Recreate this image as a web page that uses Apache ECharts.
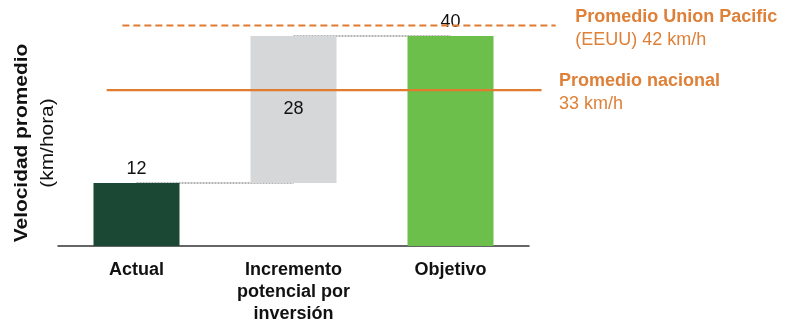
<!DOCTYPE html>
<html>
<head>
<meta charset="utf-8">
<script src="https://cdn.jsdelivr.net/npm/echarts@6/dist/echarts.min.js"></script>
<style>html,body{margin:0;padding:0;background:#fff;}#c{width:786px;height:322px;}</style>
</head>
<body>
<div id="c"></div>
<script>
// ---- data ----
const categories = ['Actual', 'Incremento\npotencial por\ninversión', 'Objetivo'];
const baseValues = [0, 12, 0];          // invisible offset for the waterfall step
const barValues = [12, 28, 40];         // visible bar values
const barColors = ['#1B4735', '#D6D7D9', '#6CBF4A'];
const yTitle = 'Velocidad promedio';
const ySubtitle = '(km/hora)';
// reference lines and their extents in category units
const unionPacificValue = 42;
const unionPacificExtent = [-0.09, 2.67];
const unionPacificLabel = ['Promedio Union Pacific', '(EEUU) 42 km/h'];
const nationalValue = 29.7;
const nationalExtent = [-0.19, 2.58];
const nationalLabel = ['Promedio nacional', '33 km/h'];

const FONT = '"Liberation Sans", Arial, sans-serif';
const ORANGE = '#E07B30';
const ORANGE_TXT = '#DF8038';
const BAND = 157, LEFT = 58, TOP = 15, HEIGHT = 231, YMAX = 44;

const stepTop = baseValues[1] + barValues[1];
const connector1 = [barValues[0], barValues[0], '-'];
const connector2 = ['-', stepTop, stepTop];

const chart = echarts.init(document.getElementById('c'), null, {renderer: 'canvas'});

function refLabel(lines, dist, padTop) {
  return {
    show: true, position: 'right', distance: dist, padding: [padTop, 0, 0, 0],
    formatter: '{b|' + lines[0] + '}\n{r|' + lines[1] + '}',
    rich: {
      b: {fontFamily: FONT, fontSize: 18, fontWeight: 'bold', color: ORANGE_TXT, lineHeight: 23},
      r: {fontFamily: FONT, fontSize: 18, color: ORANGE_TXT, lineHeight: 23}
    }
  };
}

chart.setOption({
  animation: false,
  grid: [
    {left: LEFT, top: TOP, width: BAND * 3, height: HEIGHT, outerBoundsMode: 'none', containLabel: false},
    {left: LEFT, top: TOP, width: BAND * 3.2, height: HEIGHT, outerBoundsMode: 'none', containLabel: false}
  ],
  xAxis: [
    {
      type: 'category', gridIndex: 0, data: categories,
      axisLine: {lineStyle: {color: '#333', width: 1.5}},
      axisTick: {show: false},
      axisLabel: {fontFamily: FONT, fontSize: 18, fontWeight: 'bold', color: '#111', lineHeight: 22, margin: 13, interval: 0}
    },
    {type: 'value', gridIndex: 1, min: -0.5, max: 2.7, show: false}
  ],
  yAxis: [
    {type: 'value', gridIndex: 0, min: 0, max: YMAX, show: false},
    {type: 'value', gridIndex: 1, min: 0, max: YMAX, show: false}
  ],
  graphic: [
    {type: 'text', x: 22, y: 143, rotation: Math.PI / 2, scaleX: 1.16,
     style: {text: yTitle, font: 'bold 18px ' + FONT, fill: '#111', align: 'center', verticalAlign: 'middle'}},
    {type: 'text', x: 48, y: 143, rotation: Math.PI / 2, scaleX: 1.16,
     style: {text: ySubtitle, font: '18px ' + FONT, fill: '#111', align: 'center', verticalAlign: 'middle'}}
  ],
  series: [
    {
      type: 'line', xAxisIndex: 0, yAxisIndex: 0, data: connector1, z: 1,
      symbol: 'none', lineStyle: {color: '#666', width: 1, type: [2, 1]}, silent: true
    },
    {
      type: 'line', xAxisIndex: 0, yAxisIndex: 0, data: connector2, z: 1,
      symbol: 'none', lineStyle: {color: '#666', width: 1, type: [2, 1]}, silent: true
    },
    {
      type: 'bar', xAxisIndex: 0, yAxisIndex: 0, stack: 'w', data: baseValues, z: 3,
      barWidth: 86, itemStyle: {color: 'transparent'}, silent: true
    },
    {
      type: 'bar', xAxisIndex: 0, yAxisIndex: 0, stack: 'w', z: 3, barWidth: 86,
      data: barValues.map((v, i) => ({
        value: v,
        itemStyle: {color: barColors[i]},
        label: {show: true, position: i === 1 ? 'inside' : 'top', distance: 5,
                fontFamily: FONT, fontSize: 18, color: '#111'}
      }))
    },
    {
      type: 'line', xAxisIndex: 1, yAxisIndex: 1, z: 4, symbol: 'circle', symbolSize: 1,
      showSymbol: true, showAllSymbol: true, itemStyle: {color: 'transparent', borderWidth: 0}, silent: true,
      lineStyle: {color: ORANGE, width: 2, type: [7, 4]},
      labelLayout: {hideOverlap: false},
      data: [
        {value: [unionPacificExtent[0], unionPacificValue], label: {show: false}},
        {value: [unionPacificExtent[1], unionPacificValue], label: refLabel(unionPacificLabel, 19, 6)}
      ]
    },
    {
      type: 'line', xAxisIndex: 1, yAxisIndex: 1, z: 4, symbol: 'circle', symbolSize: 1,
      showSymbol: true, showAllSymbol: true, itemStyle: {color: 'transparent', borderWidth: 0}, silent: true,
      lineStyle: {color: ORANGE, width: 2.2},
      labelLayout: {hideOverlap: false},
      data: [
        {value: [nationalExtent[0], nationalValue], label: {show: false}},
        {value: [nationalExtent[1], nationalValue], label: refLabel(nationalLabel, 17, 4)}
      ]
    }
  ]
});
</script>
</body>
</html>
